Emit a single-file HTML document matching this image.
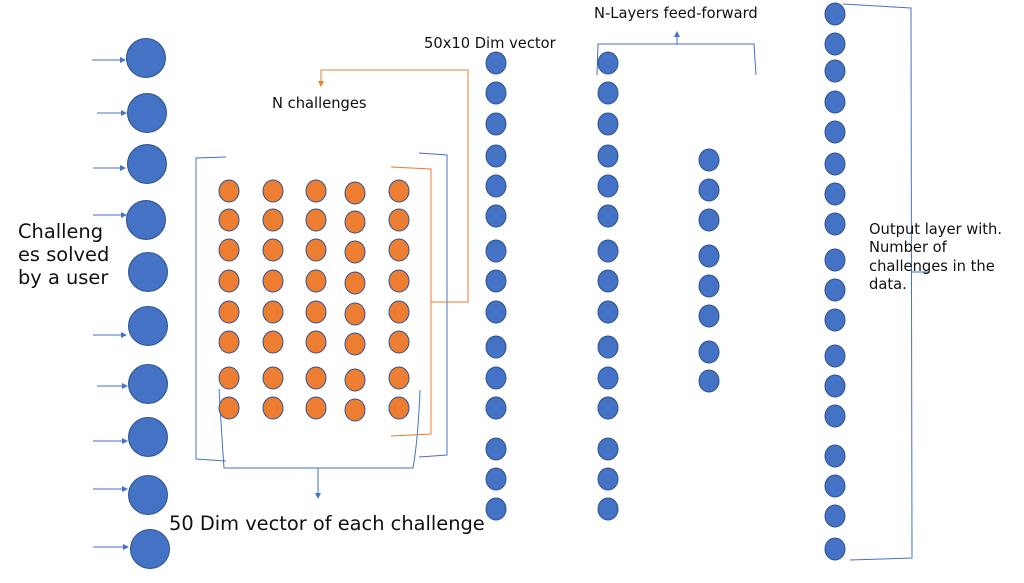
<!DOCTYPE html>
<html><head><style>body{margin:0;background:#fff}svg{display:block}text{font-family:"DejaVu Sans","Liberation Sans",sans-serif;fill:#111}</style></head><body>
<svg width="1024" height="583" viewBox="0 0 1024 583">
<defs><marker id="a" markerWidth="6" markerHeight="6" refX="5" refY="3" orient="auto"><path d="M0,0L6,3L0,6z" fill="#4472c4"/></marker>
<marker id="o" markerWidth="6" markerHeight="6" refX="5" refY="3" orient="auto"><path d="M0,0L6,3L0,6z" fill="#ed7d31"/></marker></defs>
<g stroke="#4472c4" stroke-width="1" fill="none">
<line x1="92" y1="60" x2="125" y2="60" marker-end="url(#a)"/>
<line x1="97" y1="113" x2="126" y2="113" marker-end="url(#a)"/>
<line x1="93" y1="168" x2="125" y2="168" marker-end="url(#a)"/>
<line x1="93" y1="215" x2="126" y2="215" marker-end="url(#a)"/>
<line x1="93" y1="335" x2="126" y2="335" marker-end="url(#a)"/>
<line x1="97" y1="386" x2="127" y2="386" marker-end="url(#a)"/>
<line x1="93" y1="441" x2="127" y2="441" marker-end="url(#a)"/>
<line x1="93" y1="489" x2="127" y2="489" marker-end="url(#a)"/>
<line x1="93" y1="547" x2="128" y2="547" marker-end="url(#a)"/>
<path d="M226,157 L196,158 L196,459 L226,461"/>
<path d="M419,153 L447,155 L447,455 L419,457"/>
<path d="M219,389 Q222,440 224,468 L413,468 Q418,440 420,390"/>
<line x1="318" y1="468" x2="318" y2="498" marker-end="url(#a)"/>
<path d="M597,75 L598,44 L754,44 L756,75"/>
<line x1="677" y1="44" x2="677" y2="32" marker-end="url(#a)"/>
<path d="M843,4 L911,8 L912,558 L850,560"/>
<line x1="912" y1="272" x2="930" y2="272"/>
</g>
<g stroke="#ed7d31" stroke-width="1" fill="none">
<path d="M391,167 L431,169 L431,434 L391,436"/>
<path d="M431,302 L468,302 L468,70 L321,70 L321,86" marker-end="url(#o)"/>
</g>
<g fill="#4472c4" stroke="#2f528f" stroke-width="1">
<circle cx="146" cy="58" r="19.5"/><circle cx="147" cy="113" r="19.5"/><circle cx="147" cy="164" r="19.5"/><circle cx="146" cy="220" r="19.5"/><circle cx="148" cy="272" r="19.5"/><circle cx="148" cy="326" r="19.5"/><circle cx="148" cy="384" r="19.5"/><circle cx="148" cy="437" r="19.5"/><circle cx="148" cy="495" r="19.5"/><circle cx="150" cy="549" r="19.5"/>
</g>
<g id="cols" fill="#4472c4" stroke="#2f528f" stroke-width="1"></g>
<g id="grid" fill="#ed7d31" stroke="#2f528f" stroke-width="1"></g>
<text x="18" y="238" font-size="19.4">Challeng</text>
<text x="18" y="261" font-size="19.4">es solved</text>
<text x="18" y="284" font-size="19.4">by a user</text>
<text x="169" y="530" font-size="19.4">50 Dim vector of each challenge</text>
<text x="424" y="48" font-size="14.7">50x10 Dim vector</text>
<text x="272" y="108" font-size="14.7">N challenges</text>
<text x="594" y="18" font-size="14.7">N-Layers feed-forward</text>
<text x="869" y="234" font-size="14.7">Output layer with.</text>
<text x="869" y="252" font-size="14.7">Number of</text>
<text x="869" y="271" font-size="14.7">challenges in the</text>
<text x="869" y="289" font-size="14.7">data.</text>
</svg>
<script>
var ns="http://www.w3.org/2000/svg";
function e(g,x,y,rx,ry){var c=document.createElementNS(ns,"ellipse");c.setAttribute("cx",x);c.setAttribute("cy",y);c.setAttribute("rx",rx);c.setAttribute("ry",ry);g.appendChild(c);}
var cols=document.getElementById("cols"),grid=document.getElementById("grid");
var ys=[63,93,124,156,186,216,251,281,312,347,378,408,449,479,509];
ys.forEach(function(y){e(cols,496,y,10,11);e(cols,608,y,10,11);});
[160,190,220,256,286,316,352,381].forEach(function(y){e(cols,709,y,10,11);});
[14,44,71,102,132,164,194,224,260,290,320,356,386,416,456,486,516,549].forEach(function(y){e(cols,835,y,10,11);});
[229,273,316,355,399].forEach(function(x){[191,220,250,281,312,342,378,408].forEach(function(y){e(grid,x,y+(x==355?2:0),10,11);});});
</script>
</body></html>
